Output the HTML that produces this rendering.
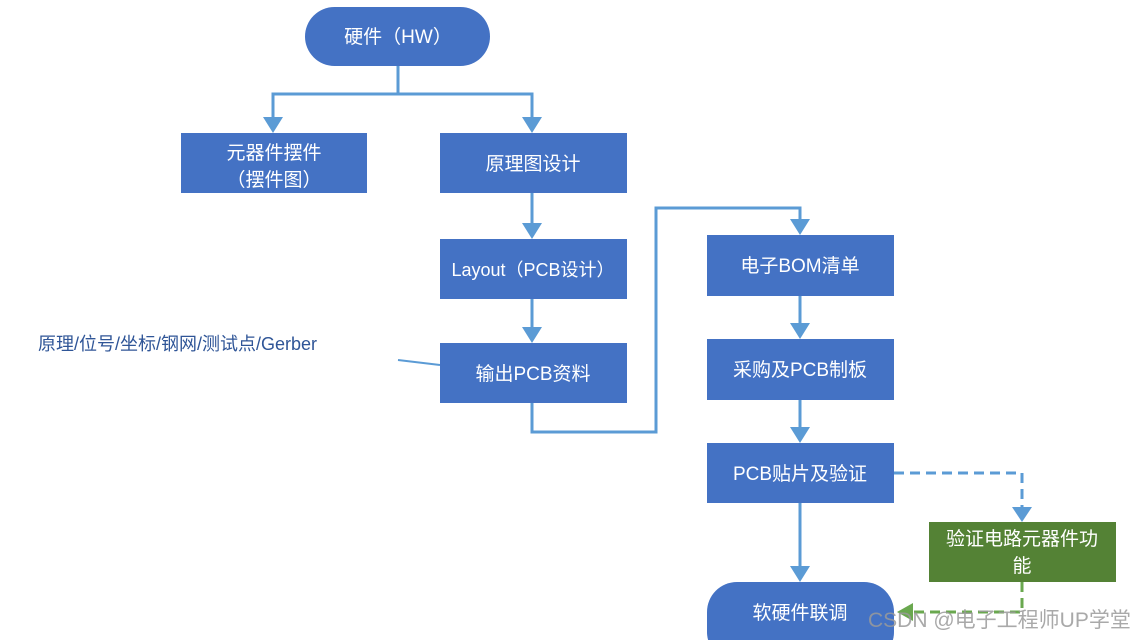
<!DOCTYPE html>
<html><head><meta charset="utf-8"><style>
html,body{margin:0;padding:0;background:#fff;}
svg{display:block;}
text{font-family:"Liberation Sans","Noto Sans CJK SC",sans-serif;}
</style></head><body>
<svg width="1135" height="640" viewBox="0 0 1135 640" xmlns="http://www.w3.org/2000/svg">
<defs>
<marker id="a" markerWidth="10" markerHeight="10" refX="5" refY="9" orient="auto" markerUnits="userSpaceOnUse" viewBox="0 0 10 10"></marker>
</defs>
<g fill="none" stroke="#5B9BD5" stroke-width="3">
<polyline points="398,66 398,94 273,94 273,118"/>
<polyline points="398,94 532,94 532,118"/>
<polyline points="532,193 532,224"/>
<polyline points="532,299 532,328"/>
<polyline points="532,403 532,432 656,432 656,208 800,208 800,221"/>
<polyline points="800,296 800,324"/>
<polyline points="800,400 800,428"/>
<polyline points="800,503 800,567"/>
<polyline points="894,473 1022,473 1022,508" stroke-dasharray="10,6"/>
<line x1="398" y1="360" x2="440" y2="365" stroke-width="2"/>
</g>
<g fill="#5B9BD5">
<polygon points="263,117 283,117 273,133"/>
<polygon points="522,117 542,117 532,133"/>
<polygon points="522,223 542,223 532,239"/>
<polygon points="522,327 542,327 532,343"/>
<polygon points="790,219 810,219 800,235"/>
<polygon points="790,323 810,323 800,339"/>
<polygon points="790,427 810,427 800,443"/>
<polygon points="790,566 810,566 800,582"/>
<polygon points="1012,507 1032,507 1022,522"/>
</g>
<polyline points="1022,582 1022,612 912,612" fill="none" stroke="#6AA84F" stroke-width="3" stroke-dasharray="10,6"/>
<polygon points="897,612 913,603 913,621" fill="#6AA84F"/>
<g fill="#4472C4">
<rect x="305" y="7" width="185" height="59" rx="29.5"/>
<rect x="181" y="133" width="186" height="60"/>
<rect x="440" y="133" width="187" height="60"/>
<rect x="440" y="239" width="187" height="60"/>
<rect x="440" y="343" width="187" height="60"/>
<rect x="707" y="235" width="187" height="61"/>
<rect x="707" y="339" width="187" height="61"/>
<rect x="707" y="443" width="187" height="60"/>
<rect x="707" y="582" width="187" height="80" rx="30"/>
</g>
<rect x="929" y="522" width="187" height="60" fill="#548235"/>
<g fill="#fff" font-size="19" text-anchor="middle">
<text x="398" y="43">硬件（HW）</text>
<text x="274" y="159">元器件摆件</text>
<text x="274" y="186">（摆件图）</text>
<text x="533" y="170">原理图设计</text>
<text x="533" y="276" font-size="18">Layout（PCB设计）</text>
<text x="533" y="380">输出PCB资料</text>
<text x="800" y="272">电子BOM清单</text>
<text x="800" y="376">采购及PCB制板</text>
<text x="800" y="480">PCB贴片及验证</text>
<text x="800" y="619">软硬件联调</text>
<text x="1022" y="545">验证电路元器件功</text>
<text x="1022" y="572">能</text>
</g>
<text x="38" y="350" font-size="18" fill="#2F5597">原理/位号/坐标/钢网/测试点/Gerber</text>
<text x="868" y="627" font-size="21" fill="#9a9a9a" fill-opacity="0.85">CSDN @电子工程师UP学堂</text>
</svg>
</body></html>
